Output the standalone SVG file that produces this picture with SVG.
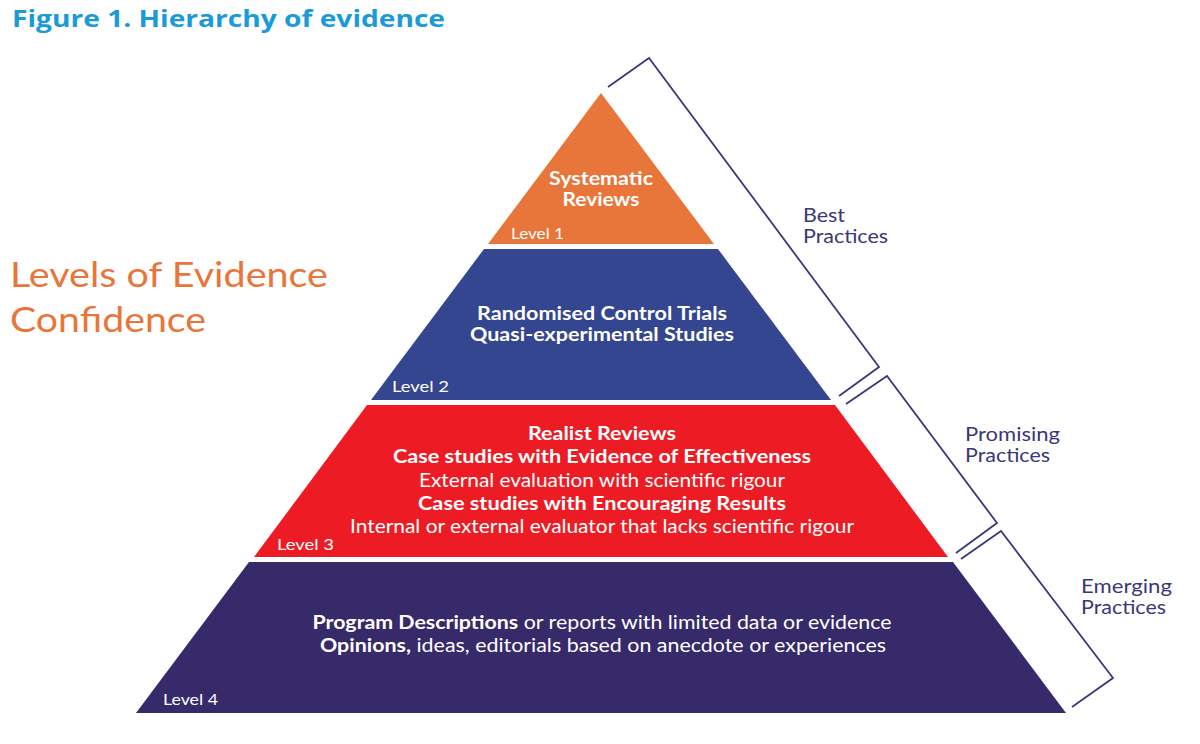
<svg xmlns="http://www.w3.org/2000/svg" width="1200" height="744" viewBox="0 0 1200 744">
<style>
.w{fill:#ffffff;font-family:Lato,"Liberation Sans",sans-serif;font-size:19.5px;text-anchor:middle}
.b{font-weight:bold}
.lv{fill:#ffffff;font-family:Lato,"Liberation Sans",sans-serif;font-size:14.5px}
.br{fill:none;stroke:#3a3878;stroke-width:1.8}
.pr{fill:#3a3878;font-family:Lato,"Liberation Sans",sans-serif;font-size:19.5px}
</style>
<rect width="1200" height="744" fill="#ffffff"/>
<text x="12" y="27" fill="#1a9ad7" font-family="'Open Sans','Liberation Sans',sans-serif" font-weight="bold" font-size="23.5" textLength="433" lengthAdjust="spacingAndGlyphs">Figure 1. Hierarchy of evidence</text>
<g id="heading" fill="#e8763a" font-family="Lato,'Liberation Sans',sans-serif" font-size="34">
<text x="10" y="287" textLength="318" lengthAdjust="spacingAndGlyphs">Levels of Evidence</text>
<text x="10" y="332" textLength="196" lengthAdjust="spacingAndGlyphs">Confidence</text>
</g>
<g id="level1">
<polygon points="601,93 714,244 488,244" fill="#e8763a"/>
<text class="w b" x="601" y="185" textLength="104" lengthAdjust="spacingAndGlyphs">Systematic</text>
<text class="w b" x="601" y="206" textLength="77" lengthAdjust="spacingAndGlyphs">Reviews</text>
<text class="lv" x="511" y="239" textLength="53" lengthAdjust="spacingAndGlyphs">Level 1</text>
</g>
<g id="level2">
<polygon points="484,249 718,249 831,400 371,400" fill="#33468f"/>
<text class="w b" x="602" y="320" textLength="250" lengthAdjust="spacingAndGlyphs">Randomised Control Trials</text>
<text class="w b" x="602" y="341" textLength="264" lengthAdjust="spacingAndGlyphs">Quasi-experimental Studies</text>
<text class="lv" x="392" y="392" textLength="57" lengthAdjust="spacingAndGlyphs">Level 2</text>
</g>
<g id="level3">
<polygon points="367,405 835,405 948,557 254,557" fill="#ed1c24"/>
<text class="w b" x="602" y="440" textLength="148" lengthAdjust="spacingAndGlyphs">Realist Reviews</text>
<text class="w b" x="602" y="463" textLength="418" lengthAdjust="spacingAndGlyphs">Case studies with Evidence of Effectiveness</text>
<text class="w" x="602" y="487" textLength="366" lengthAdjust="spacingAndGlyphs">External evaluation with scientific rigour</text>
<text class="w b" x="602" y="510" textLength="368" lengthAdjust="spacingAndGlyphs">Case studies with Encouraging Results</text>
<text class="w" x="602" y="533" textLength="504" lengthAdjust="spacingAndGlyphs">Internal or external evaluator that lacks scientific rigour</text>
<text class="lv" x="277" y="550" textLength="57" lengthAdjust="spacingAndGlyphs">Level 3</text>
</g>
<g id="level4">
<polygon points="249,562 953,562 1066,713 136,713" fill="#362a6b"/>
<text class="w" x="602" y="629" textLength="579" lengthAdjust="spacingAndGlyphs"><tspan class="b">Program Descriptions</tspan> or reports with limited data or evidence</text>
<text class="w" x="603" y="652" textLength="566" lengthAdjust="spacingAndGlyphs"><tspan class="b">Opinions,</tspan> ideas, editorials based on anecdote or experiences</text>
<text class="lv" x="163" y="705" textLength="55" lengthAdjust="spacingAndGlyphs">Level 4</text>
</g>
<g id="connectors">
<polyline class="br" points="608,87 649,58 879,367 839,396"/>
<polyline class="br" points="846,404 887,376 997,523 956,553"/>
<polyline class="br" points="961,559 1001,531 1113,678 1072,707"/>
</g>
<g id="best"><text class="pr" x="803" y="222" textLength="42" lengthAdjust="spacingAndGlyphs">Best</text><text class="pr" x="803" y="243" textLength="85" lengthAdjust="spacingAndGlyphs">Practices</text></g>
<g id="promising"><text class="pr" x="965" y="441" textLength="95" lengthAdjust="spacingAndGlyphs">Promising</text><text class="pr" x="965" y="462" textLength="85" lengthAdjust="spacingAndGlyphs">Practices</text></g>
<g id="emerging"><text class="pr" x="1081" y="593" textLength="91" lengthAdjust="spacingAndGlyphs">Emerging</text><text class="pr" x="1081" y="614" textLength="85" lengthAdjust="spacingAndGlyphs">Practices</text></g>
</svg>
